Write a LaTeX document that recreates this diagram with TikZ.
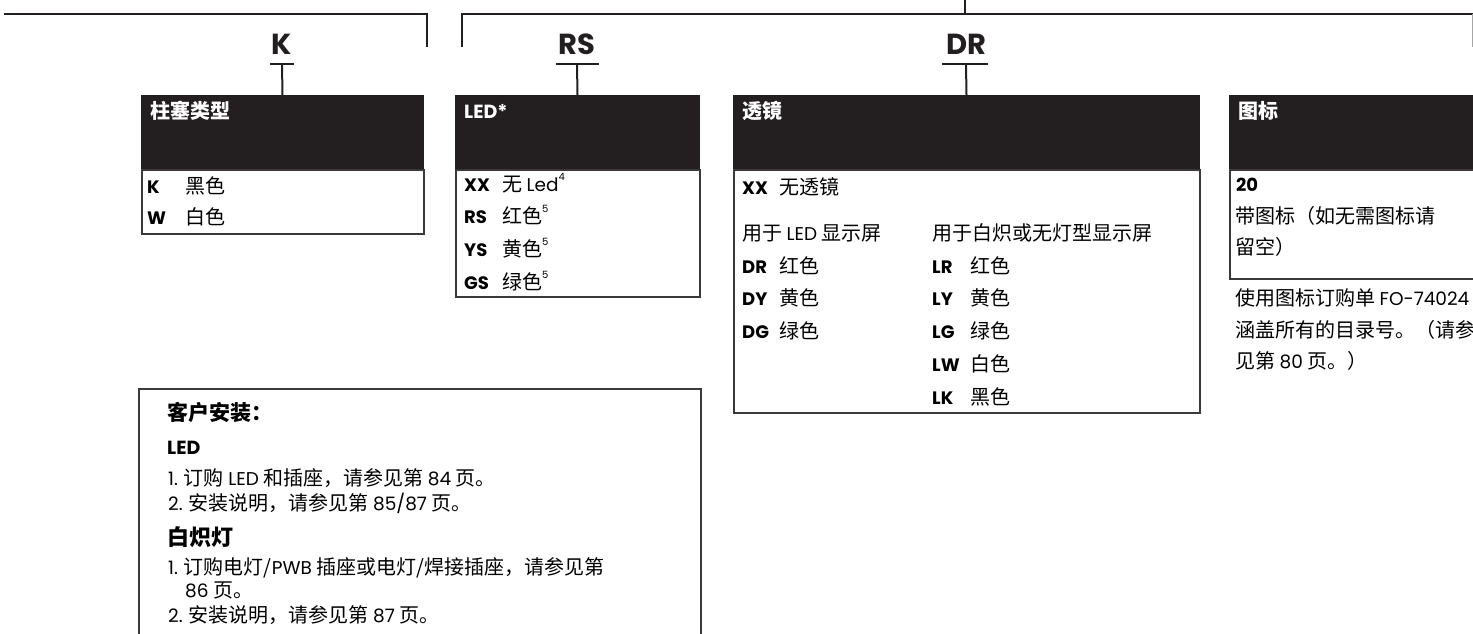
\documentclass[tikz,border=0pt]{standalone}
\usepackage{fontspec}
\setmainfont{Noto Sans CJK SC}
\newfontfamily\pop{Poppins}
\definecolor{ink}{HTML}{231F20}
\definecolor{rim}{HTML}{3A3838}
\newcommand{\cj}{\fontsize{20}{24}\selectfont}
\newcommand{\lt}[1]{{\pop\fontsize{18.5}{20}\selectfont #1}}
\newcommand{\sups}[1]{\raisebox{0.55em}{\fontsize{10}{10}\selectfont\pop #1}}
\tikzset{
  hdr/.style={fill=ink, draw=ink, line width=1pt, inner sep=0pt, anchor=north west},
  bodybox/.style={draw=rim, line width=1.8pt, inner sep=0pt, anchor=north west},
  brk/.style={draw=ink, line width=2.2pt},
  tick/.style={draw=ink, line width=2pt},
  txt/.style={anchor=base west, inner sep=0pt, font=\cj},
  htxt/.style={anchor=base west, inner sep=0pt, text=white, font=\cj\bfseries},
  code/.style={anchor=base west, inner sep=0pt, font=\pop\bfseries\fontsize{18}{18}\selectfont},
  lab/.style={anchor=base, inner sep=0pt, font=\pop\bfseries\fontsize{29}{29}\selectfont, text=ink}
}
\begin{document}
\begin{tikzpicture}[x=1pt,y=-1pt]
\useasboundingbox (0,0) rectangle (1473,633);

% brackets
\coordinate (a1) at (4,14);
\coordinate (a2) at (427,14);
\coordinate (a3) at (427,47);
\coordinate (b1) at (462,47);
\coordinate (b2) at (462,14);
\coordinate (b3) at (1480,14);
\coordinate (c1) at (1472,14);
\coordinate (c2) at (1472,47);
\coordinate (j1) at (965,-5);
\coordinate (j2) at (965,14);
\draw[brk] (a1) -- (a2) -- (a3);
\draw[brk] (b1) -- (b2) -- (b3);
\draw[draw=gray!70, line width=1pt] (c1) -- (c2);
\draw[brk] (j1) -- (j2);

% boxes
\node[hdr, minimum width=282, minimum height=74] (kh) at (141,95) {};
\node[bodybox, minimum width=282, minimum height=64] (kb) at (141,169) {};
\node[hdr, minimum width=244, minimum height=74] (lh) at (455,95) {};
\node[bodybox, minimum width=244, minimum height=127] (lb) at (455,169) {};
\node[hdr, minimum width=466, minimum height=74] (th) at (733,95) {};
\node[bodybox, minimum width=466, minimum height=243] (tb) at (733,169) {};
\node[hdr, minimum width=260, minimum height=74] (ih) at (1229,95) {};
\node[bodybox, minimum width=260, minimum height=109] (ib) at (1229,169) {};

% labels and ticks
\node[lab] (klab) at (282,54) {K};
\node[lab] (rlab) at (577,54) {RS};
\node[lab] (dlab) at (966,54) {DR};
\coordinate (kt1) at (270,64); \coordinate (kt2) at (294,64); \coordinate (ktm) at (282,64);
\coordinate (rt1) at (556,64); \coordinate (rt2) at (599,64); \coordinate (rtm) at (577,64);
\coordinate (dt1) at (942,64); \coordinate (dt2) at (988,64); \coordinate (dtm) at (966,64);
\draw[tick] (kt1) -- (kt2); \draw[tick] (ktm) -- (kh.north);
\draw[tick] (rt1) -- (rt2); \draw[tick] (rtm) -- (lh.north);
\draw[tick] (dt1) -- (dt2); \draw[tick] (dtm) -- (th.north);

% headers
\node[htxt] (kht) at (150,118) {柱塞类型};
\node[anchor=base west, inner sep=0pt, text=white, font=\pop\bfseries\fontsize{19}{19}\selectfont] (lht) at (464,118) {LED*};
\node[htxt] (tht) at (742,118) {透镜};
\node[htxt] (iht) at (1238,118) {图标};

% K box
\node[code] (k1) at (147,193) {K};
\node[txt] (k1t) at (185,193) {黑色};
\node[code] (k2) at (147,224) {W};
\node[txt] (k2t) at (185,224) {白色};

% LED box
\node[code] (l1) at (464,191) {XX};
\node[txt] (l1t) at (502,191) {无 \lt{Led}\sups{4}};
\node[code] (l2) at (464,223) {RS};
\node[txt] (l2t) at (502,223) {红色\sups{5}};
\node[code] (l3) at (464,256) {YS};
\node[txt] (l3t) at (502,256) {黄色\sups{5}};
\node[code] (l4) at (464,289) {GS};
\node[txt] (l4t) at (502,289) {绿色\sups{5}};

% lens box
\node[code] (t0) at (742,194) {XX};
\node[txt] (t0t) at (779,194) {无透镜};
\node[txt] (tc1) at (742,240) {用于 \lt{LED} 显示屏};
\node[txt] (tc2) at (932,240) {用于白炽或无灯型显示屏};
\node[code] (d1) at (742,273) {DR};
\node[txt] (d1t) at (779,273) {红色};
\node[code] (d2) at (742,305) {DY};
\node[txt] (d2t) at (779,305) {黄色};
\node[code] (d3) at (742,338) {DG};
\node[txt] (d3t) at (779,338) {绿色};
\node[code] (e1) at (932,273) {LR};
\node[txt] (e1t) at (970,273) {红色};
\node[code] (e2) at (932,305) {LY};
\node[txt] (e2t) at (970,305) {黄色};
\node[code] (e3) at (932,338) {LG};
\node[txt] (e3t) at (970,338) {绿色};
\node[code] (e4) at (932,371) {LW};
\node[txt] (e4t) at (970,371) {白色};
\node[code] (e5) at (932,404) {LK};
\node[txt] (e5t) at (970,404) {黑色};

% icon box
\node[code] (i1) at (1236,191) {20};
\node[txt] (i2) at (1235,223) {带图标（如无需图标请};
\node[txt] (i3) at (1235,254) {留空）};
\node[txt] (i4) at (1235,305) {使用图标订购单 \lt{FO-74024}};
\node[txt] (i5) at (1235,337) {涵盖所有的目录号。（请参};
\node[txt] (i6) at (1235,368) {见第 \lt{80} 页。）};

% install box
\coordinate (s1) at (139,645);
\coordinate (s2) at (139,389);
\coordinate (s3) at (701,389);
\coordinate (s4) at (701,645);
\draw[draw=rim, line width=1.5pt] (s1) -- (s2) -- (s3) -- (s4);
\node[txt, font=\fontsize{21}{24}\selectfont\bfseries] (n1) at (167,420) {客户安装：};
\node[anchor=base west, inner sep=0pt, font=\pop\bfseries\fontsize{19}{19}\selectfont] (n2) at (167,454) {LED};
\node[txt] (n3) at (168,485) {\lt{1.} 订购 \lt{LED} 和插座，请参见第 \lt{84} 页。};
\node[txt] (n4) at (168,510) {\lt{2.} 安装说明，请参见第 \lt{85/87} 页。};
\node[txt, font=\fontsize{22}{24}\selectfont\bfseries] (n5) at (167,545) {白炽灯};
\node[txt] (n6) at (168,574) {\lt{1.} 订购电灯/\lt{PWB} 插座或电灯/焊接插座，请参见第};
\node[txt] (n7) at (185,597) {\lt{86} 页。};
\node[txt] (n8) at (168,622) {\lt{2.} 安装说明，请参见第 \lt{87} 页。};
\end{tikzpicture}
\end{document}
